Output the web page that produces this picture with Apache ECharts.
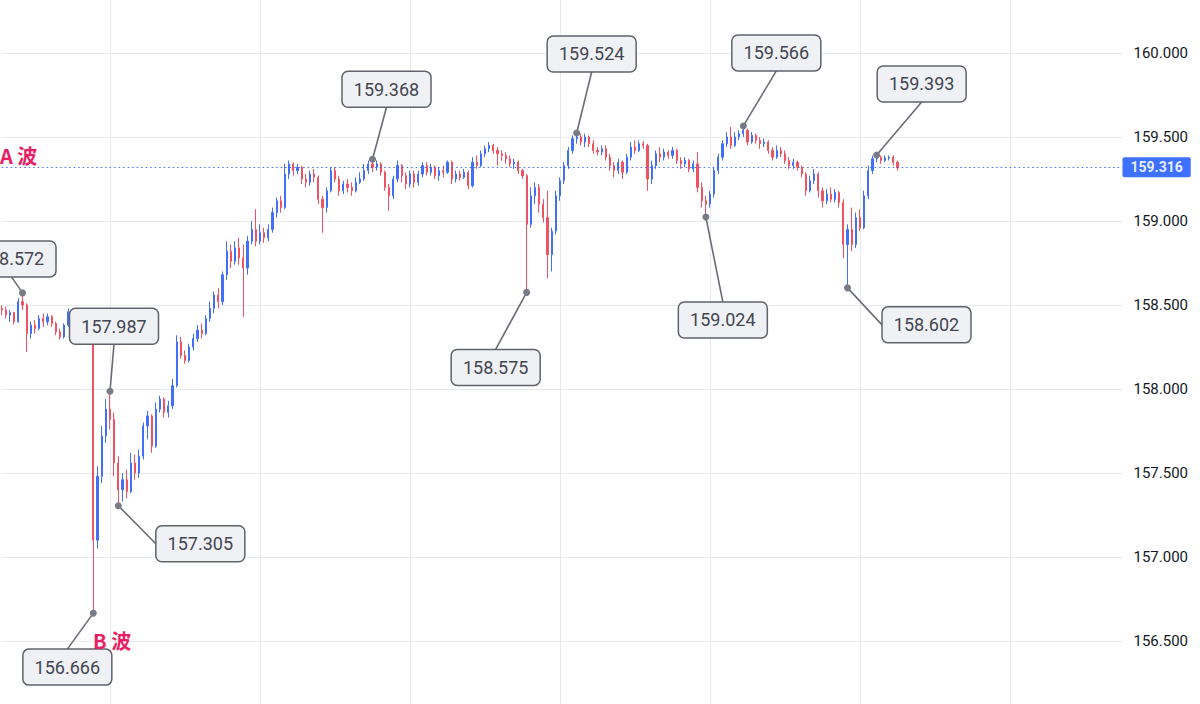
<!DOCTYPE html>
<html><head><meta charset="utf-8">
<script src="https://cdn.jsdelivr.net/npm/echarts@6/dist/echarts.min.js"></script>
<style>html,body{margin:0;padding:0;background:#fff;overflow:hidden}#c{width:1200px;height:704px}</style>
</head><body><div id="c"></div>
<script>
// ---- data: 20-minute candles, [open, close, low, high] ----
const ohlc = [
[158.480,158.470,158.440,158.500],
[158.470,158.440,158.420,158.490],[158.440,158.455,158.400,158.470],[158.455,158.400,158.385,158.460],[158.400,158.520,158.395,158.540],
[158.520,158.500,158.470,158.572],[158.500,158.330,158.220,158.510],[158.330,158.380,158.300,158.400],[158.380,158.360,158.330,158.410],
[158.360,158.420,158.350,158.440],[158.420,158.400,158.370,158.450],[158.400,158.430,158.380,158.450],[158.430,158.390,158.370,158.440],
[158.390,158.340,158.320,158.400],[158.340,158.310,158.295,158.360],[158.310,158.380,158.300,158.390],[158.380,158.460,158.370,158.480],
[158.460,158.400,158.380,158.475],[158.400,158.330,158.260,158.410],[158.330,158.390,158.310,158.410],[158.390,158.340,158.300,158.420],
[158.340,158.380,158.320,158.410],[158.380,157.100,156.666,158.400],[157.100,157.480,157.050,157.540],[157.480,157.720,157.440,157.780],
[157.720,157.880,157.680,157.940],[157.880,157.820,157.760,157.987],[157.820,157.560,157.480,157.860],[157.560,157.400,157.305,157.600],
[157.400,157.460,157.330,157.500],[157.460,157.390,157.350,157.520],[157.390,157.560,157.380,157.620],[157.560,157.500,157.460,157.610],
[157.500,157.600,157.470,157.640],[157.600,157.780,157.580,157.800],[157.780,157.840,157.700,157.870],[157.840,157.660,157.620,157.850],
[157.660,157.880,157.650,157.920],[157.880,157.940,157.860,157.960],[157.940,157.860,157.830,157.950],[157.860,157.900,157.830,157.930],
[157.900,158.020,157.880,158.060],[158.020,158.280,158.010,158.320],[158.280,158.200,158.180,158.310],[158.200,158.170,158.150,158.230],
[158.170,158.250,158.160,158.270],[158.250,158.300,158.230,158.330],[158.300,158.350,158.280,158.380],[158.350,158.330,158.300,158.390],
[158.330,158.420,158.320,158.440],[158.420,158.480,158.400,158.520],[158.480,158.560,158.450,158.580],[158.560,158.520,158.480,158.600],
[158.520,158.680,158.500,158.700],[158.680,158.820,158.650,158.880],[158.820,158.760,158.720,158.860],[158.760,158.840,158.740,158.880],
[158.840,158.780,158.740,158.900],[158.780,158.720,158.430,158.860],[158.720,158.880,158.680,158.910],[158.880,158.950,158.860,159.000],
[158.950,158.880,158.850,159.070],[158.880,158.930,158.860,158.980],[158.930,158.900,158.870,158.960],[158.900,158.950,158.880,158.980],
[158.950,159.050,158.930,159.080],[159.050,159.120,159.020,159.140],[159.120,159.080,159.050,159.150],[159.080,159.280,159.070,159.340],
[159.280,159.340,159.250,159.360],[159.340,159.300,159.270,159.350],[159.300,159.320,159.280,159.340],[159.320,159.250,159.220,159.330],
[159.250,159.230,159.200,159.280],[159.230,159.280,159.210,159.300],[159.280,159.260,159.230,159.310],[159.260,159.130,159.100,159.270],
[159.130,159.080,158.930,159.150],[159.080,159.180,159.050,159.200],[159.180,159.300,159.170,159.320],[159.300,159.250,159.230,159.320],
[159.250,159.180,159.150,159.270],[159.180,159.220,159.160,159.240],[159.220,159.200,159.170,159.250],[159.200,159.180,159.150,159.230],
[159.180,159.230,159.170,159.260],[159.230,159.250,159.220,159.290],[159.250,159.300,159.240,159.340],[159.300,159.340,159.280,159.360],
[159.340,159.320,159.290,159.368],[159.320,159.340,159.300,159.360],[159.340,159.290,159.270,159.350],[159.290,159.200,159.180,159.300],
[159.200,159.150,159.060,159.220],[159.150,159.250,159.130,159.270],[159.250,159.330,159.230,159.360],[159.330,159.270,159.230,159.340],
[159.270,159.220,159.190,159.290],[159.220,159.280,159.200,159.300],[159.280,159.230,159.200,159.300],[159.230,159.280,159.210,159.300],
[159.280,159.330,159.260,159.350],[159.330,159.290,159.270,159.350],[159.290,159.320,159.270,159.340],[159.320,159.270,159.250,159.330],
[159.270,159.300,159.240,159.320],[159.300,159.290,159.260,159.330],[159.290,159.350,159.280,159.360],[159.350,159.250,159.220,159.360],
[159.250,159.280,159.230,159.300],[159.280,159.260,159.240,159.300],[159.260,159.290,159.250,159.310],[159.290,159.210,159.190,159.300],
[159.210,159.350,159.200,159.380],[159.350,159.330,159.310,159.390],[159.330,159.400,159.320,159.420],[159.400,159.430,159.380,159.450],
[159.430,159.450,159.410,159.470],[159.450,159.420,159.400,159.460],[159.420,159.400,159.330,159.440],[159.400,159.390,159.360,159.420],
[159.390,159.370,159.340,159.410],[159.370,159.340,159.320,159.390],[159.340,159.350,159.310,159.370],[159.350,159.300,159.280,159.360],
[159.300,159.270,159.250,159.310],[159.270,158.980,158.575,159.280],[158.980,159.150,158.960,159.200],[159.150,159.200,159.100,159.230],
[159.200,159.100,159.050,159.220],[159.100,159.020,158.990,159.130],[159.020,158.800,158.660,159.180],[158.800,158.940,158.700,158.960],
[158.940,159.150,158.920,159.180],[159.150,159.240,159.120,159.260],[159.240,159.330,159.220,159.350],[159.330,159.420,159.310,159.440],
[159.420,159.490,159.400,159.510],[159.490,159.500,159.460,159.524],[159.500,159.470,159.450,159.520],[159.470,159.500,159.440,159.520],
[159.500,159.460,159.440,159.510],[159.460,159.420,159.400,159.480],[159.420,159.410,159.390,159.440],[159.410,159.430,159.390,159.450],
[159.430,159.380,159.360,159.450],[159.380,159.330,159.300,159.400],[159.330,159.300,159.260,159.350],[159.300,159.350,159.280,159.370],
[159.350,159.290,159.250,159.360],[159.290,159.380,159.280,159.400],[159.380,159.440,159.360,159.470],[159.440,159.420,159.400,159.480],
[159.420,159.460,159.410,159.480],[159.460,159.450,159.430,159.475],[159.450,159.250,159.180,159.460],[159.250,159.330,159.220,159.360],
[159.330,159.400,159.310,159.420],[159.400,159.380,159.350,159.440],[159.380,159.410,159.360,159.430],[159.410,159.390,159.370,159.420],
[159.390,159.420,159.370,159.440],[159.420,159.360,159.340,159.430],[159.360,159.340,159.310,159.380],[159.340,159.360,159.320,159.380],
[159.360,159.310,159.290,159.370],[159.310,159.340,159.290,159.360],[159.340,159.200,159.170,159.410],[159.200,159.120,159.080,159.230],
[159.120,159.100,159.024,159.150],[159.100,159.160,159.080,159.180],[159.160,159.300,159.140,159.320],[159.300,159.380,159.280,159.400],
[159.380,159.460,159.360,159.480],[159.460,159.500,159.440,159.530],[159.500,159.450,159.430,159.560],[159.450,159.500,159.440,159.530],
[159.500,159.520,159.480,159.540],[159.520,159.540,159.500,159.566],[159.540,159.470,159.450,159.550],[159.470,159.510,159.460,159.530],
[159.510,159.480,159.460,159.520],[159.480,159.460,159.430,159.500],[159.460,159.470,159.440,159.490],[159.470,159.420,159.400,159.480],
[159.420,159.380,159.360,159.440],[159.380,159.420,159.370,159.450],[159.420,159.400,159.380,159.440],[159.400,159.360,159.340,159.420],
[159.360,159.330,159.310,159.380],[159.330,159.350,159.310,159.370],[159.350,159.320,159.300,159.360],[159.320,159.280,159.260,159.330],
[159.280,159.180,159.150,159.290],[159.180,159.240,159.170,159.270],[159.240,159.280,159.220,159.310],[159.280,159.180,159.140,159.290],
[159.180,159.120,159.080,159.200],[159.120,159.160,159.100,159.190],[159.160,159.130,159.110,159.200],[159.130,159.170,159.110,159.190],
[159.170,159.110,159.080,159.180],[159.110,158.860,158.780,159.130],[158.860,158.950,158.602,158.980],[158.950,158.860,158.820,159.080],
[158.860,159.020,158.840,159.050],[159.020,158.960,158.940,159.070],[158.960,159.150,158.950,159.180],[159.150,159.300,159.130,159.330],
[159.300,159.370,159.280,159.390],[159.370,159.380,159.350,159.393],[159.380,159.360,159.340,159.390],[159.360,159.375,159.350,159.390],
[159.375,159.380,159.360,159.390],[159.380,159.350,159.330,159.390],[159.350,159.316,159.300,159.360]
];
// annotated swing points: candle index and price
const annIdx = [5, 22, 26, 28, 89, 126, 138, 169, 178, 203, 210];
const annVal = [158.572, 156.666, 157.987, 157.305, 159.368, 158.575, 159.524, 159.024, 159.566, 158.602, 159.393];
const lastPrice = 159.316;
const waveTexts = ['A 波', 'B 波'];
const slotCount = 270; // time slots on the axis (incl. empty future space)

// ---- layout / styling (kept separate from data) ----
const labelOffsets = [[-11,-34],[-26,54],[4,-65],[82,38],[14,-70],[-31,75],[15,-79],[17,103],[33,-73],[79,37],[45,-71]];

const times = [];
{
  const t0 = Date.UTC(2024, 5, 24, 0, 0);
  for (let i = 0; i < slotCount; i++) {
    const d = new Date(t0 + i * 20 * 60000);
    times.push(d.toISOString().slice(0, 16).replace('T', ' '));
  }
}

const annData = annIdx.map((x, k) => [x, annVal[k]]);
const chart = echarts.init(document.getElementById('c'), null, {renderer: 'svg'});
const upC = '#4170f6', downC = '#ef5263';
chart.setOption({
  animation: false,
  backgroundColor: '#ffffff',
  grid: {left: 1.67, right: 77.5, top: -31, bottom: -21, containLabel: false, outerBoundsMode: 'none'},
  xAxis: {
    type: 'category', data: times, boundaryGap: false,
    axisLine: {show: false}, axisTick: {show: false}, axisLabel: {show: false},
    splitLine: {show: true, interval: (idx) => idx >= 26 && (idx - 26) % 36 === 0,
      lineStyle: {color: '#e8eaee', width: 1}}
  },
  yAxis: {
    type: 'value', position: 'right', min: 156, max: 160.5, interval: 0.5, scale: true,
    axisLine: {show: false}, axisTick: {show: false},
    axisLabel: {showMinLabel: false, showMaxLabel: false,
      formatter: v => (v <= 156 || v >= 160.5) ? '' : v.toFixed(3),
      margin: 11, color: '#131722', fontSize: 15, fontFamily: 'Roboto'},
    splitLine: {show: true, lineStyle: {color: '#e8eaee', width: 1}}
  },
  series: [
    {
      type: 'candlestick', data: ohlc, barWidth: 1.6,
      itemStyle: {color: upC, color0: downC, borderColor: upC, borderColor0: downC, borderColorDoji: upC, borderWidth: 1},
      markLine: {
        silent: true, symbol: ['none', 'none'],
        lineStyle: {type: [1.5, 3], color: '#2962ff', width: 1.2, opacity: 0.9},
        label: {show: true, position: 'end', distance: 0, formatter: () => lastPrice.toFixed(3),
          backgroundColor: '#2962ff', color: '#ffffff', fontSize: 14, fontWeight: 'bold', fontFamily: 'Roboto',
          padding: [3, 8], borderRadius: 2},
        emphasis: {disabled: true},
        data: [{yAxis: lastPrice}]
      }
    },
    {
      type: 'custom', data: annData, clip: false, z: 10, encode: {x: 0, y: 1},
      renderItem: function (params, api) {
        const k = params.dataIndex;
        const p = api.coord([api.value(0), api.value(1)]);
        const off = labelOffsets[k];
        const cx = p[0] + off[0], cy = p[1] + off[1];
        const W = 89, H = 36;
        let ex, ey;
        if (Math.abs(off[0]) > 60 && Math.abs(off[1]) < 45) { ex = cx - Math.sign(off[0]) * W / 2; ey = cy; }
        else { ex = cx; ey = cy - Math.sign(off[1]) * H / 2; }
        return {type: 'group', children: [
          {type: 'line', shape: {x1: p[0], y1: p[1], x2: ex, y2: ey}, style: {stroke: '#6a6d76', lineWidth: 1.6}},
          {type: 'rect', shape: {x: cx - W / 2, y: cy - H / 2, width: W, height: H, r: 6},
            style: {fill: '#eff1f5', stroke: '#60636b', lineWidth: 1.5}},
          {type: 'text', style: {x: cx, y: cy, text: annVal[k].toFixed(3), align: 'center', verticalAlign: 'middle',
            fontSize: 18, fontFamily: 'Roboto', fill: '#434651'}},
          {type: 'circle', shape: {cx: p[0], cy: p[1], r: 3.5}, style: {fill: '#787b86'}}
        ]};
      }
    }
  ],
  graphic: [
    {type: 'text', x: 0, y: 155, z: 20, style: {text: waveTexts[0], fill: '#e91e63', font: 'bold 20px "Noto Sans CJK JP"', verticalAlign: 'middle'}},
    {type: 'text', x: 93, y: 640, z: 20, style: {text: waveTexts[1], fill: '#e91e63', font: 'bold 20px "Noto Sans CJK JP"', verticalAlign: 'middle'}}
  ]
});
</script>
</body></html>
